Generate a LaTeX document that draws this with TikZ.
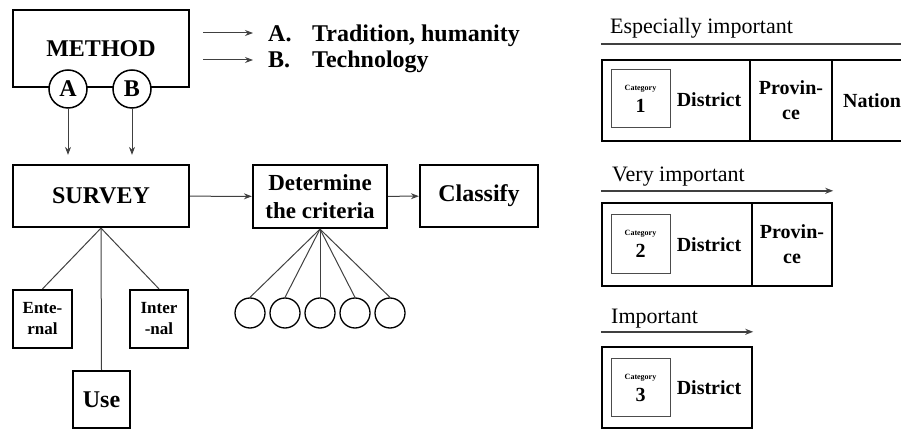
\documentclass[tikz,border=0pt]{standalone}
\usepackage{fontspec}
\setmainfont{Liberation Serif}
\usetikzlibrary{arrows.meta}
\newcommand\fbig{\fontsize{24}{29}\selectfont\bfseries}
\newcommand\fmid{\fontsize{20}{25}\selectfont\bfseries}
\newcommand\fsmall{\fontsize{17}{21}\selectfont\bfseries}
\newcommand\ftiny{\fontsize{8}{9}\selectfont\bfseries}
\newcommand\fhead{\fontsize{22}{24}\selectfont}
\tikzset{
  box/.style={draw,line width=2.2pt,inner sep=0pt,align=center,font=\fbig},
  cell/.style={box,line width=2.4pt,font=\fmid},
  catbox/.style={draw,line width=1pt,black!70,text=black,inner sep=0pt,
    minimum width=59,minimum height=58,align=center},
  ring/.style={circle,draw,fill=white,line width=1.5pt,inner sep=0pt,minimum size=38,font=\fbig},
  leaf/.style={circle,draw,line width=1.3pt,minimum size=30,inner sep=0pt},
  conn/.style={line width=1pt,black!75},
  arr/.style={conn,-{Stealth[length=8pt,width=6pt]}},
  head/.style={anchor=base west,inner sep=0pt,font=\fhead}
}
\begin{document}
\begin{tikzpicture}[x=1pt,y=-1pt]
\useasboundingbox (0,0) rectangle (901,430);
\clip (0,0) rectangle (901,430);
% left: method and survey
\node[box,minimum width=176,minimum height=77] (method) at (101,48.5) {METHOD};
\node[ring] (a) at (68,89) {A};
\node[ring] (b) at (132,89) {B};
\node[anchor=base west,inner sep=0pt,font=\fbig] (ta) at (268,42) {\makebox[44pt][l]{A.}Tradition, humanity};
\node[anchor=base west,inner sep=0pt,font=\fbig] (tb) at (268,68) {\makebox[44pt][l]{B.}Technology};
\draw[arr] ([xshift=-65pt,yshift=9pt]ta.base west) -- ([xshift=-15pt,yshift=9pt]ta.base west);
\draw[arr] ([xshift=-65pt,yshift=8pt]tb.base west) -- ([xshift=-15pt,yshift=8pt]tb.base west);
\node[box,minimum width=176,minimum height=62] (survey) at (101,196) {SURVEY};
\draw[arr,shorten >=9pt] (a) -- (a |- survey.north);
\draw[arr,shorten >=9pt] (b) -- (b |- survey.north);
\node[box,font=\fsmall,minimum width=59,minimum height=58] (ente) at (42.5,319) {Ente-\\rnal};
\node[box,font=\fsmall,minimum width=58,minimum height=58] (inter) at (159,319) {Inter\\-nal};
\node[box,minimum width=57,minimum height=57] (use) at (101.5,399.5) {Use};
\draw[conn] (survey.south) -- (ente.north);
\draw[conn] (survey.south) -- (inter.north);
\draw[conn] (survey.south) -- (use.north);
% criteria
\node[box,font=\fontsize{23}{28}\selectfont\bfseries,minimum width=134,minimum height=63] (crit) at (320,196.5) {Determine\\the criteria};
\node[box,minimum width=118,minimum height=62] (classify) at (479,196) {Classify};
\draw[arr] (survey) -- (crit);
\draw[arr] (crit) -- (classify);
\foreach \i/\x in {1/250,2/285,3/320,4/355,5/390}{
  \node[leaf] (k\i) at (\x,313) {};
  \draw[conn] (crit.south) -- (k\i.north);
}
% right: categories
\node[cell,minimum width=148,minimum height=81] (d1) at (676,100.5) {};
\node[cell,minimum width=82,minimum height=81] (p1) at (791,100.5) {Provin-\\ce};
\node[cell,minimum width=80,minimum height=81] (n1) at (872,100.5) {Nation};
\node[catbox] (g1) at (640.5,99) {{\ftiny Category}\\[6pt]{\fmid 1}};
\node[inner sep=0pt,font=\fmid] (t1) at (709,100) {District};
\node[head] (h1) at (610,34) {Especially important};
\draw[conn,line width=1.8pt] ([yshift=15pt]d1.north west) -- ([yshift=15pt,xshift=20pt]n1.north east);

\node[cell,minimum width=150,minimum height=83] (d2) at (677,244.5) {};
\node[cell,minimum width=80,minimum height=83] (p2) at (792,244.5) {Provin-\\ce};
\node[catbox] (g2) at (640.5,244) {{\ftiny Category}\\[6pt]{\fmid 2}};
\node[inner sep=0pt,font=\fmid] (t2) at (709,245) {District};
\node[head] (h2) at (612,182) {Very important};
\draw[arr,line width=1.5pt] ([yshift=11pt]d2.north west) -- ([yshift=11pt]p2.north east);

\node[cell,minimum width=150,minimum height=81] (d3) at (677,387.5) {};
\node[catbox] (g3) at (640.5,387.5) {{\ftiny Category}\\[6pt]{\fmid 3}};
\node[inner sep=0pt,font=\fmid] (t3) at (709,388) {District};
\node[head] (h3) at (611,323) {Important};
\draw[arr,line width=1.5pt] ([yshift=14pt]d3.north west) -- ([yshift=14pt]d3.north east);
\end{tikzpicture}
\end{document}
